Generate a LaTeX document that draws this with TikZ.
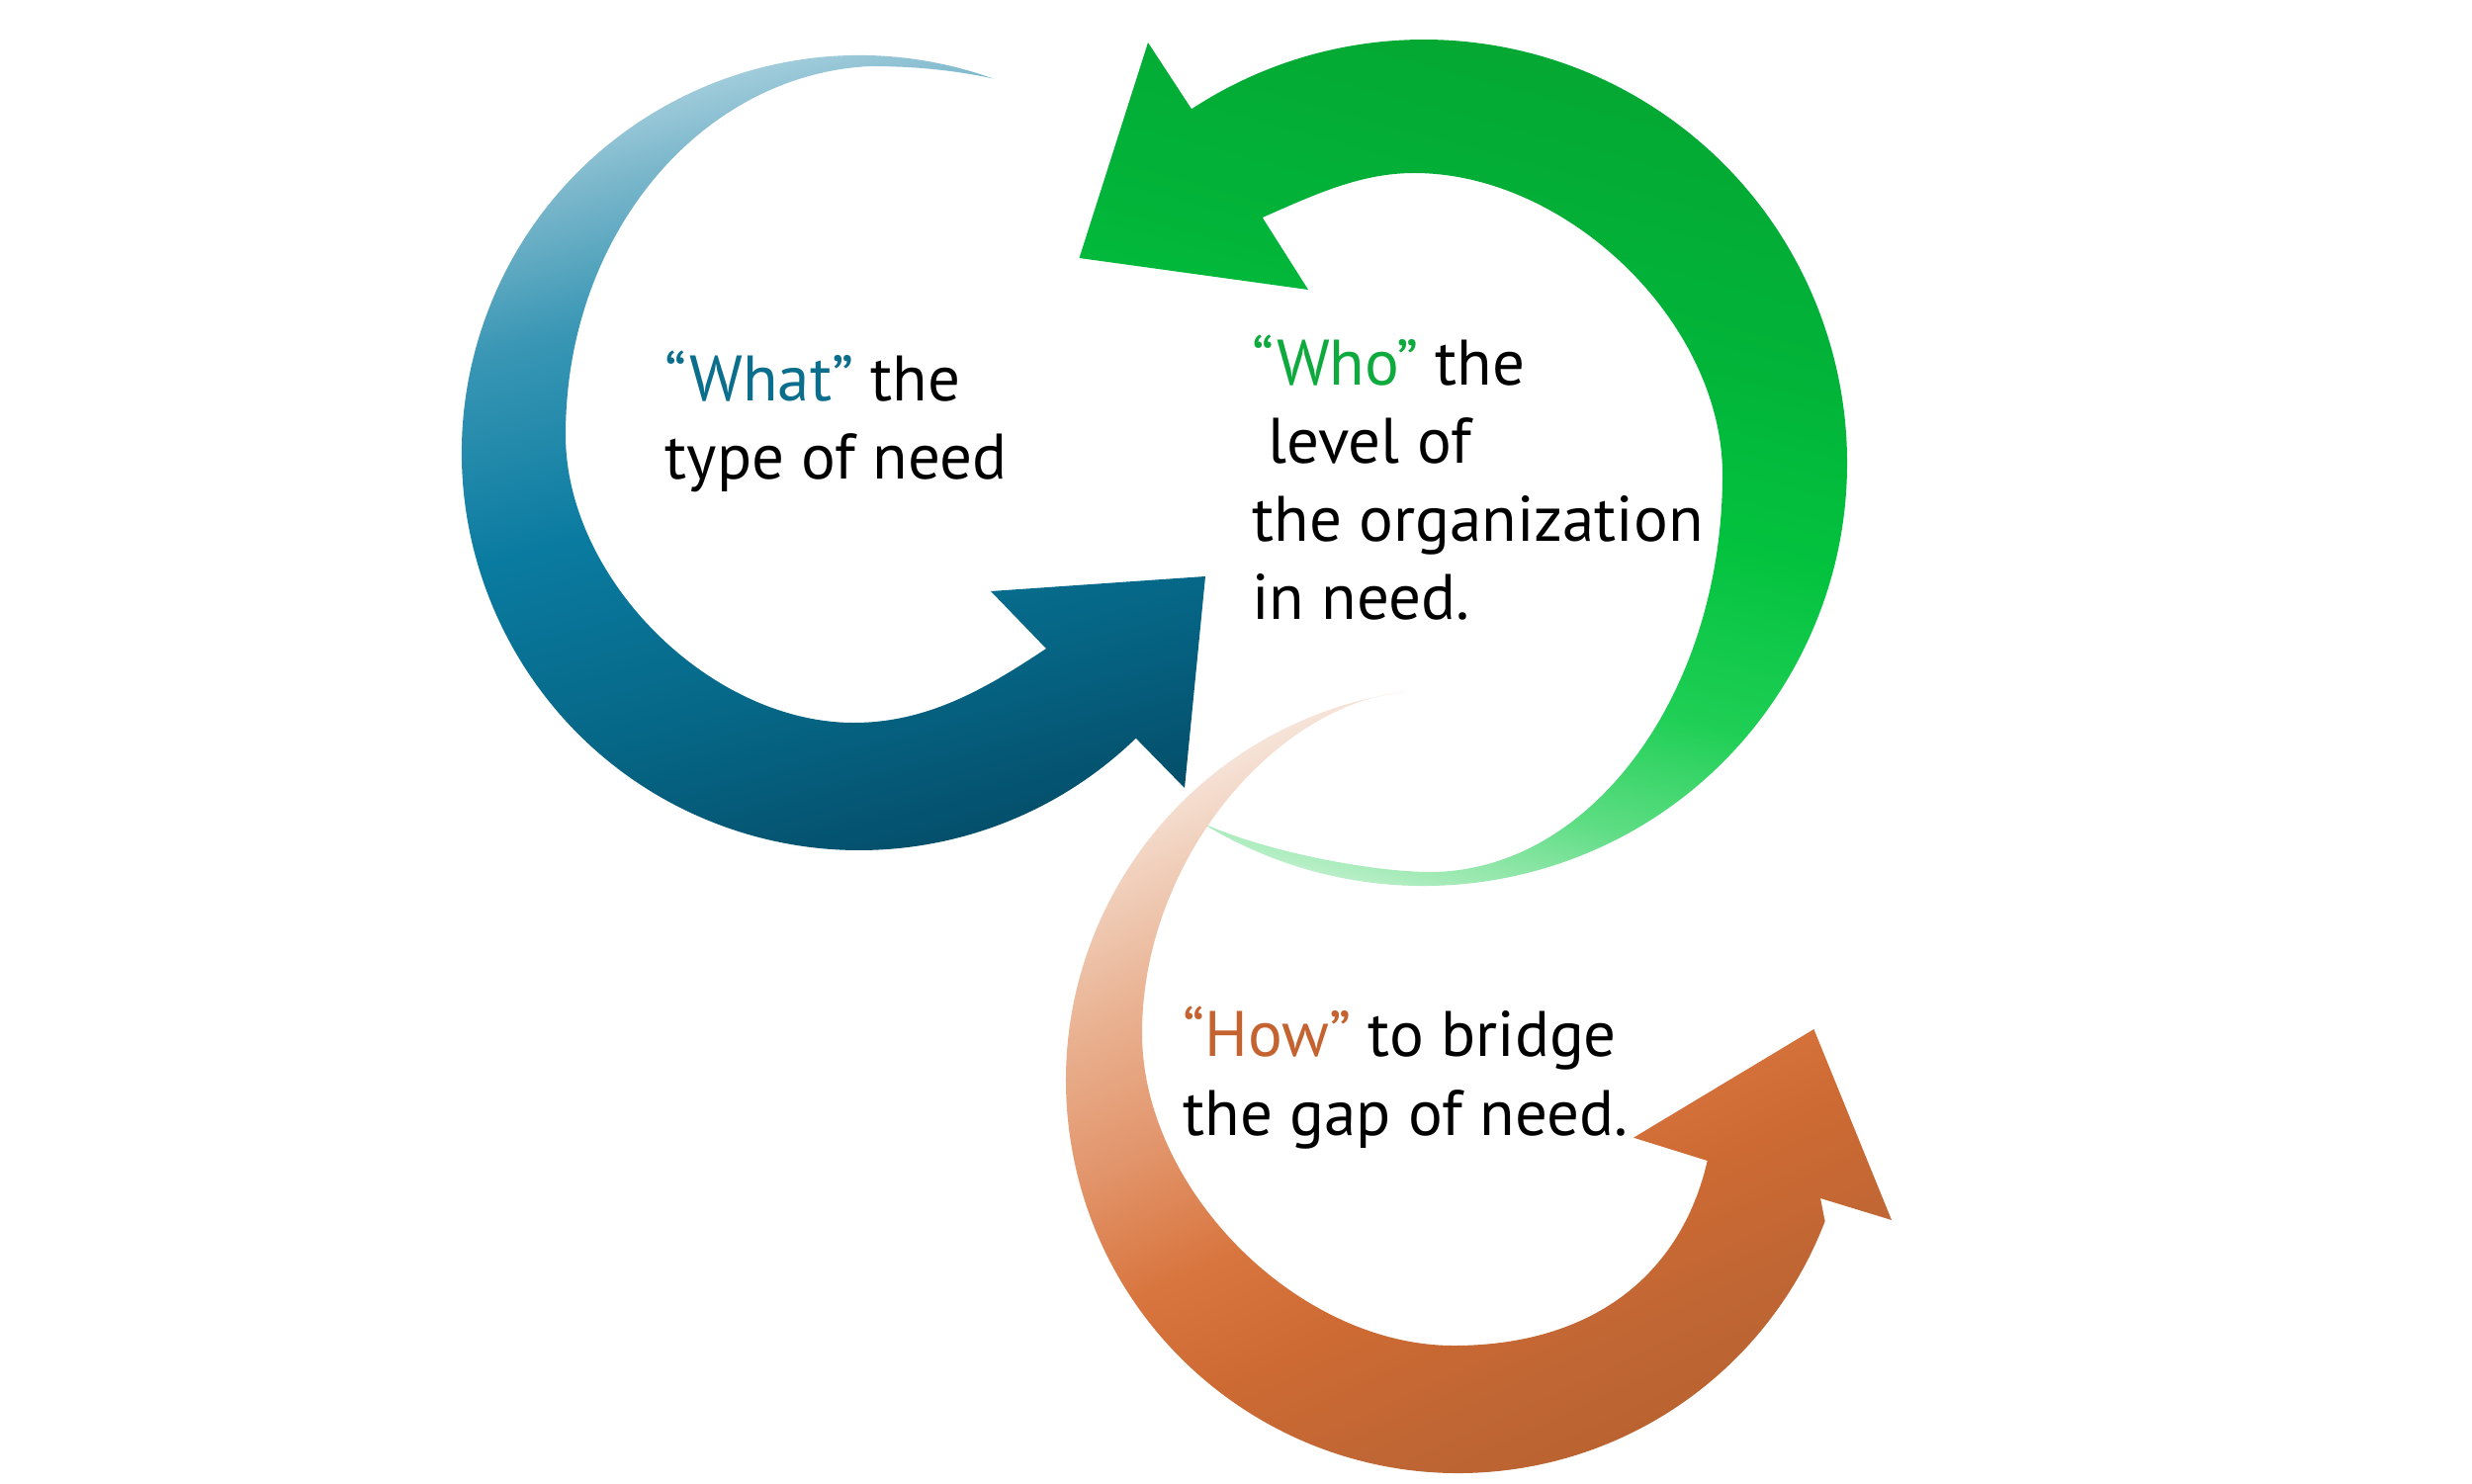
\documentclass[tikz,border=0pt]{standalone}
\usepackage{fontspec}
\setmainfont{PT Sans}
\definecolor{whatcol}{RGB}{10,110,140}
\definecolor{whocol}{RGB}{14,170,62}
\definecolor{howcol}{RGB}{196,98,48}
\definecolor{blueA}{RGB}{188,220,231}
\definecolor{blueB}{RGB}{125,184,204}
\definecolor{blueC}{RGB}{58,151,181}
\definecolor{blueD}{RGB}{10,123,160}
\definecolor{blueE}{RGB}{6,103,135}
\definecolor{blueF}{RGB}{4,79,107}
\definecolor{greenA}{RGB}{210,245,219}
\definecolor{greenB}{RGB}{162,234,182}
\definecolor{greenC}{RGB}{94,221,132}
\definecolor{greenD}{RGB}{31,207,85}
\definecolor{greenE}{RGB}{3,194,62}
\definecolor{greenF}{RGB}{2,180,57}
\definecolor{greenG}{RGB}{4,166,50}
\definecolor{orA}{RGB}{246,228,217}
\definecolor{orB}{RGB}{240,205,184}
\definecolor{orC}{RGB}{233,176,143}
\definecolor{orD}{RGB}{226,148,106}
\definecolor{orE}{RGB}{216,116,61}
\definecolor{orF}{RGB}{205,106,51}
\definecolor{orG}{RGB}{191,102,52}
\definecolor{orH}{RGB}{184,98,47}
\pgfdeclareverticalshading{whatshade}{100bp}{color(0bp)=(blueF); color(25bp)=(blueF); color(36bp)=(blueE); color(48bp)=(blueD); color(60bp)=(blueC); color(68bp)=(blueB); color(75bp)=(blueA); color(100bp)=(blueA)}
\pgfdeclareverticalshading{whoshade}{100bp}{color(0bp)=(greenA); color(25bp)=(greenA); color(28bp)=(greenB); color(33bp)=(greenC); color(40bp)=(greenD); color(50bp)=(greenE); color(60bp)=(greenF); color(75bp)=(greenG); color(100bp)=(greenG)}
\pgfdeclareverticalshading{howshade}{100bp}{color(0bp)=(orH); color(25bp)=(orH); color(32bp)=(orG); color(40bp)=(orF); color(47bp)=(orE); color(55bp)=(orD); color(63bp)=(orC); color(70bp)=(orB); color(75bp)=(orA); color(100bp)=(orA)}

\begin{document}
\begin{tikzpicture}
	\tikzstyle{every node}=[font=\fontsize{18.5}{22.5}\selectfont, inner sep=0pt, anchor=base west, align=left]
	\fill[white] (0,0) rectangle (25,15);
	\useasboundingbox (0,0) rectangle (25,15);
	\shade[shading=whoshade, shading angle=-15] (14.40,10.32) ++(238.2:4.28) arc[start angle=238.2, end angle=483.3, radius=4.28] -- (11.61,14.57) -- (10.915,12.39) -- (13.23,12.07) -- (12.767,12.80) .. controls (13.27,13.02) and (13.75,13.25) .. (14.30,13.25) .. controls (15.86,13.25) and (17.42,11.73) .. (17.42,10.20) .. controls (17.42,7.99) and (16.09,6.18) .. (14.46,6.18) .. controls (13.90,6.18) and (12.80,6.38) .. (12.145,6.682) -- cycle;
	\shade[shading=whatshade, shading angle=15] (8.69,10.42) ++(70.3:4.02) arc[start angle=70.3, end angle=314.1, radius=4.02] -- (11.98,7.03) -- (12.19,9.17) -- (10.02,9.02) -- (10.58,8.44) .. controls (9.98,8.04) and (9.385,7.69) .. (8.635,7.69) .. controls (7.18,7.69) and (5.72,9.15) .. (5.72,10.60) .. controls (5.72,12.65) and (7.11,14.25) .. (8.80,14.33) .. controls (9.30,14.33) and (9.70,14.28) .. (10.045,14.205) -- cycle;
	\shade[shading=howshade, shading angle=25] (14.75,4.07) ++(97.7:3.97) arc[start angle=97.7, end angle=339, radius=3.97] -- (18.41,2.88) -- (19.13,2.66) -- (18.344,4.59) -- (16.52,3.493) -- (17.267,3.26) .. controls (17.00,2.10) and (16.10,1.39) .. (14.70,1.39) .. controls (13.125,1.39) and (11.55,2.97) .. (11.55,4.55) .. controls (11.55,6.30) and (12.90,7.88) .. (14.218,8.004) -- cycle;
	\node (what) at (6.72,10.154) {\textcolor{whatcol}{“What”} the\\type of need};
	\node (who) at (12.657,8.732) {\textcolor{whocol}{“Who”} the\\\hspace*{.25em}level of\\the organization\\in need.};
	\node (how) at (11.96,3.52) {\textcolor{howcol}{“How”} to bridge\\the gap of need.};
\end{tikzpicture}
\end{document}
